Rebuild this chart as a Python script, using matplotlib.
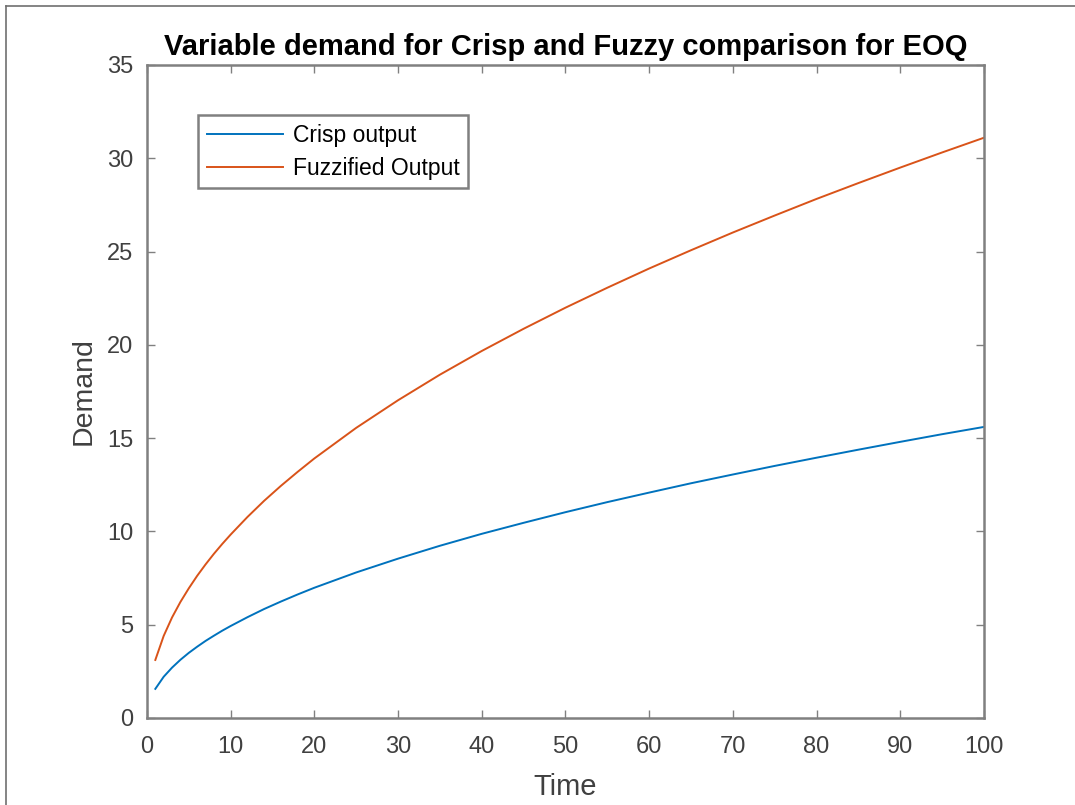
import matplotlib.pyplot as plt
from matplotlib.lines import Line2D

# ----------------------------
# Data
# ----------------------------

time = [1, 2, 3, 4, 5, 6, 7, 8, 9, 10, 12, 14, 16, 18, 20, 25, 30, 35, 40, 45,
        50, 55, 60, 65, 70, 75, 80, 85, 90, 95, 100]

crisp = [1.56, 2.21, 2.70, 3.12, 3.49, 3.82, 4.13, 4.41, 4.68, 4.93, 5.40,
         5.84, 6.24, 6.62, 6.98, 7.80, 8.54, 9.23, 9.87, 10.46, 11.03, 11.57,
         12.08, 12.58, 13.05, 13.51, 13.95, 14.38, 14.80, 15.21, 15.60]

fuzzy = [3.11, 4.40, 5.39, 6.22, 6.95, 7.62, 8.23, 8.80, 9.33, 9.83, 10.77,
         11.64, 12.44, 13.19, 13.91, 15.55, 17.03, 18.40, 19.67, 20.86, 21.99,
         23.06, 24.09, 25.07, 26.02, 26.93, 27.82, 28.67, 29.50, 30.31, 31.10]

xticks = list(range(0, 101, 10))
yticks = list(range(0, 36, 5))

# ----------------------------
# Plot
# ----------------------------

plt.rcParams['font.family'] = ['Liberation Sans', 'DejaVu Sans']

fig = plt.figure(figsize=(10.75, 8.05), dpi=100)
ax = fig.add_axes([0.1367, 0.1081, 0.7786, 0.8112])

ax.plot(time, crisp, color='#0072BD', lw=1.4, label='Crisp output')
ax.plot(time, fuzzy, color='#D95319', lw=1.4, label='Fuzzified Output')

ax.set_xlim(0, 100)
ax.set_ylim(0, 35)
ax.set_xticks(xticks)
ax.set_yticks(yticks)

for s in ax.spines.values():
    s.set_color('#808080')
    s.set_linewidth(1.8)
ax.tick_params(direction='in', length=6, width=1, colors='#808080',
               labelcolor='#404040', labelsize=17, top=True, right=True)
ax.tick_params(axis='x', pad=13)
ax.tick_params(axis='y', pad=10)

ax.set_xlabel('Time', fontsize=21, color='#404040', labelpad=11)
ax.set_ylabel('Demand', fontsize=20.5, color='#404040', labelpad=7)
ax.set_title('Variable demand for Crisp and Fuzzy comparison for EOQ',
             fontsize=21, fontweight='bold', pad=7)

leg = ax.legend(loc='upper left', bbox_to_anchor=(0.061, 0.923), fontsize=16.5,
                fancybox=False, framealpha=1, edgecolor='#808080',
                handlelength=3.35, borderpad=0.38, labelspacing=0.42,
                handletextpad=0.4, borderaxespad=0)
leg.get_frame().set_linewidth(1.8)

# thin frame on the left and top of the picture
fig.add_artist(Line2D([6 / 1075, 6 / 1075], [0, 1 - 6 / 805],
                      transform=fig.transFigure, color='#707070', lw=1.2))
fig.add_artist(Line2D([6 / 1075, 1], [1 - 6 / 805, 1 - 6 / 805],
                      transform=fig.transFigure, color='#707070', lw=1.2))

plt.savefig('out.png', dpi=100)
